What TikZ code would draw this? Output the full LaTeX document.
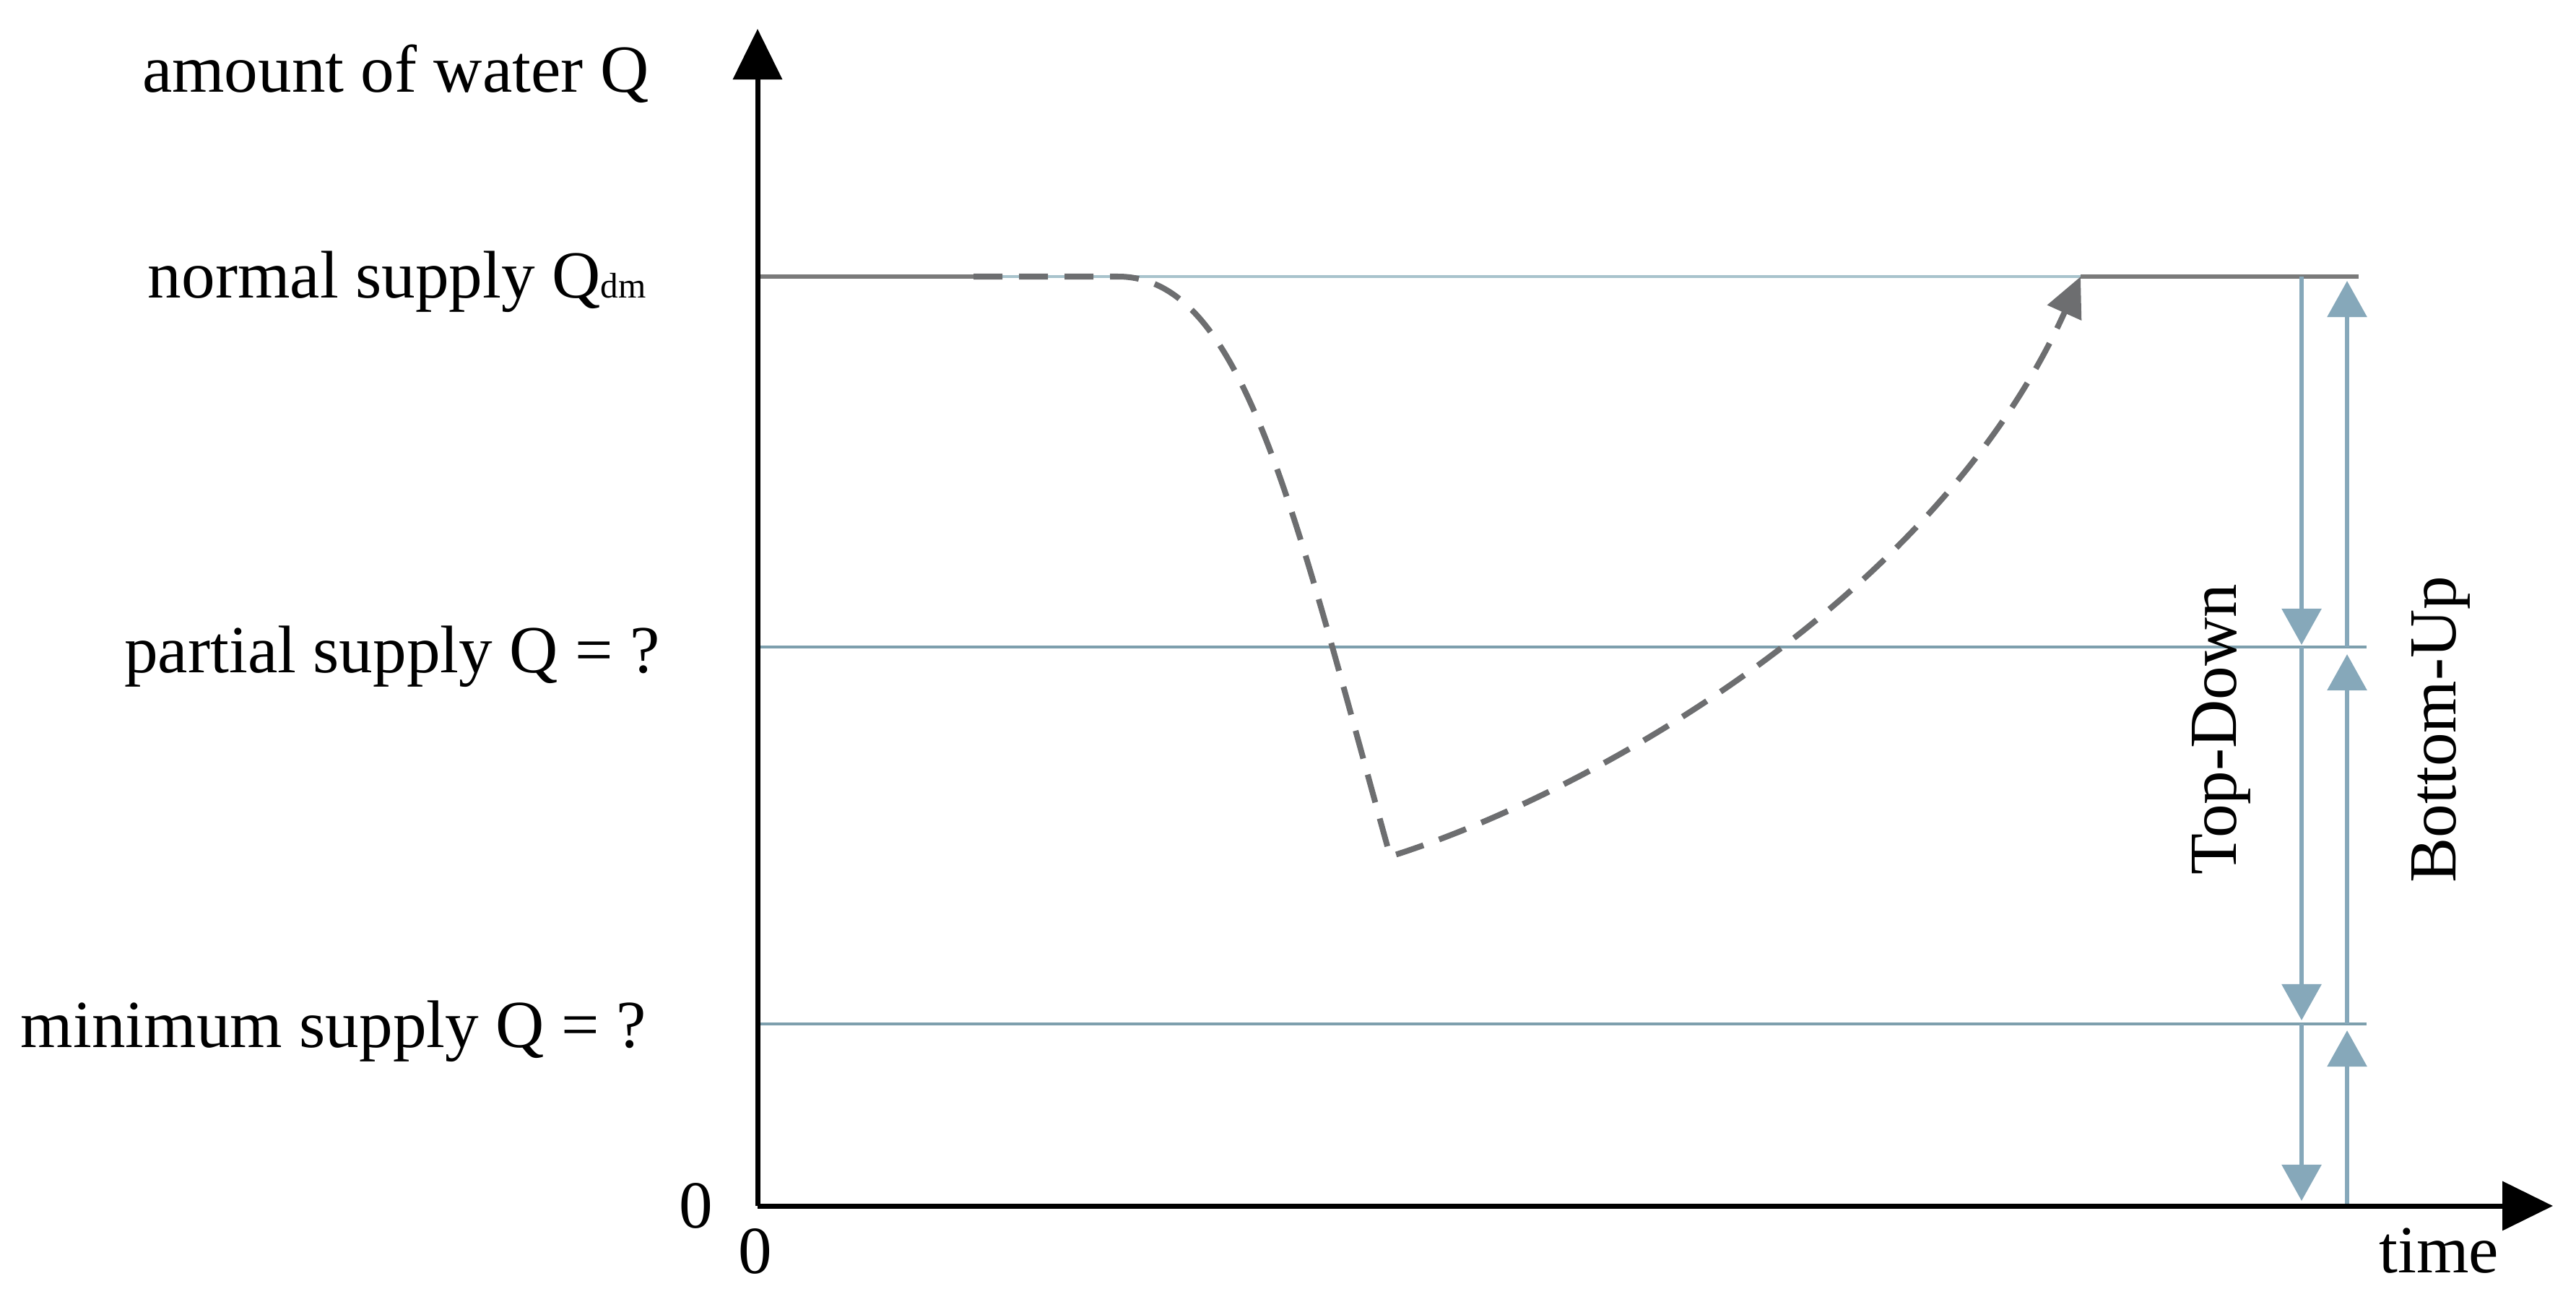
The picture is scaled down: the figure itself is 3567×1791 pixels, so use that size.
\documentclass[tikz,border=0pt]{standalone}
\usepackage{fontspec}
\setmainfont{Liberation Serif}
\usetikzlibrary{arrows.meta}
\definecolor{curvegray}{HTML}{6D6E70}
\definecolor{darkline}{HTML}{7A7A7A}
\definecolor{lightlvl}{HTML}{A8C3CC}
\definecolor{lvl}{HTML}{7D9FAD}
\definecolor{arrblue}{HTML}{86A8BA}
\begin{document}
\begin{tikzpicture}[x=0.01cm,y=-0.01cm,
  lbl/.style={inner sep=0pt, font=\fontsize{26.5}{30}\selectfont},
  axisline/.style={line width=0.07cm, black, -{Triangle[length=0.7cm,width=0.67cm]}},
  levelline/.style={line width=0.035cm, lvl},
  normdark/.style={line width=0.065cm, darkline},
  normlight/.style={line width=0.04cm, lightlvl},
  curveline/.style={line width=0.08cm, curvegray, dash pattern=on 0.40cm off 0.23cm},
  bluearrow/.style={line width=0.06cm, arrblue, -{Triangle[length=0.5cm,width=0.54cm]}}]
\useasboundingbox (0,0) rectangle (3567,1791);

% coordinates
\coordinate (O) at (1049,1670);
\coordinate (ytip) at (1049,40);
\coordinate (xtip) at (3535,1670);
\coordinate (N0) at (1049,383);
\coordinate (Ns) at (1348,383);
\coordinate (Nc) at (1548,383);
\coordinate (Nr) at (2881,383);
\coordinate (Ne) at (3266,383);
\coordinate (P0) at (1049,896);
\coordinate (Pe) at (3277,896);
\coordinate (M0) at (1049,1418);
\coordinate (Me) at (3277,1418);
\coordinate (V) at (1925,1186);
\coordinate (TD1) at (3187,383);
\coordinate (TD2) at (3187,893);
\coordinate (TD3) at (3187,896);
\coordinate (TD4) at (3187,1413);
\coordinate (TD5) at (3187,1418);
\coordinate (TD6) at (3187,1663);
\coordinate (BU1) at (3250,1670);
\coordinate (BU2) at (3250,1427);
\coordinate (BU3) at (3250,1418);
\coordinate (BU4) at (3250,906);
\coordinate (BU5) at (3250,896);
\coordinate (BU6) at (3250,389);

% level lines
\draw[levelline] (P0) -- (Pe);
\draw[levelline] (M0) -- (Me);
\draw[normlight] (Ns) -- (Nr);
\draw[normdark] (N0) -- (Ns);
\draw[normdark] (Nr) -- (Ne);

% dashed supply curve
\draw[curveline, -{Triangle[length=0.55cm,width=0.5cm]}]
  (Ns) -- (Nc) .. controls (1720,383) and (1790,700) .. (V)
  .. controls (2200,1100) and (2680,830) .. (Nr);

% Top-Down / Bottom-Up arrows
\draw[bluearrow] (TD1) -- (TD2);
\draw[bluearrow] (TD3) -- (TD4);
\draw[bluearrow] (TD5) -- (TD6);
\draw[bluearrow] (BU1) -- (BU2);
\draw[bluearrow] (BU3) -- (BU4);
\draw[bluearrow] (BU5) -- (BU6);

% axes
\draw[axisline] (O) -- (ytip);
\draw[axisline] (O) -- (xtip);

% labels
\node[lbl, anchor=base east] (tQ) at (899,128) {amount of water Q};
\node[lbl, anchor=base east] (tN) at (895,412) {normal supply Q{\fontsize{14}{14}\selectfont dm}};
\node[lbl, anchor=base east] (tP) at (914,931) {partial supply Q = ?};
\node[lbl, anchor=base east] (tM) at (895,1450) {minimum supply Q = ?};
\node[lbl, anchor=base] (z1) at (964,1700) {0};
\node[lbl, anchor=base] (z2) at (1046,1763) {0};
\node[lbl, anchor=base] (tt) at (3377,1762) {time};
\node[lbl, rotate=90, anchor=base] (td) at (3096,1010) {Top-Down};
\node[lbl, rotate=90, anchor=base] (bu) at (3400,1010) {Bottom-Up};
\end{tikzpicture}
\end{document}
